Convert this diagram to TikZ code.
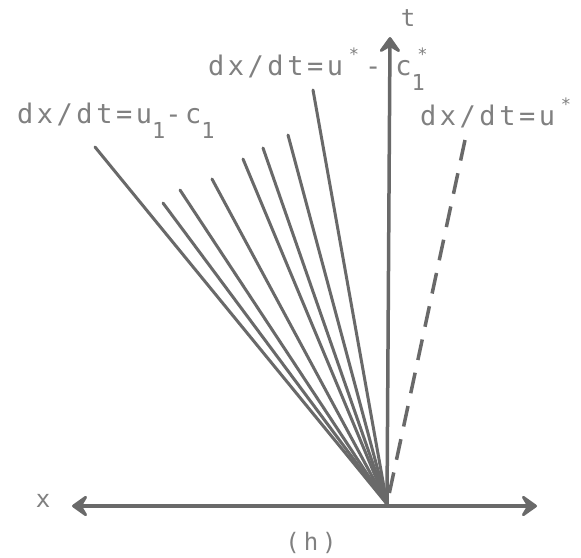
\documentclass[tikz,border=0pt]{standalone}
\usepackage{fontspec}
\newfontfamily\plotfont{DejaVu Sans Mono}[LetterSpace=13]
\usetikzlibrary{arrows.meta}
\definecolor{ink}{HTML}{696969}
\definecolor{txt}{HTML}{808080}
\newcommand\lowsub[1]{\raisebox{-15pt}{\fontsize{22}{22}\selectfont #1}}
\newcommand\upstar{\raisebox{15pt}{\makebox[22pt]{\fontsize{17}{17}\selectfont *}}}
\tikzset{
  fan/.style={draw=ink, line width=3pt, line cap=round},
  axis/.style={draw=ink, line width=3.5pt},
  dashline/.style={draw=ink, line width=3.5pt, dash pattern=on 21pt off 13pt},
  lab/.style={text=txt, font=\plotfont\fontsize{27}{27}\selectfont, inner sep=0pt, anchor=base west},
  axlab/.style={text=txt, font=\plotfont\fontsize{24}{24}\selectfont, inner sep=0pt},
  bigtip/.tip={Stealth[length=19pt, width=27pt, inset=8pt, round]}
}
\begin{document}
\begin{tikzpicture}[x=1pt, y=-1pt]
\fill[white] (0,0) rectangle (581,557);
\useasboundingbox (0,0) rectangle (581,557);
% coordinates
\coordinate (O) at (387,504);
\coordinate (xl) at (72,506);
\coordinate (xr) at (537,506);
\coordinate (tt) at (390,37);
\coordinate (f1) at (95,147);
\coordinate (f2) at (163,203);
\coordinate (f3) at (180,190);
\coordinate (f4) at (212,179);
\coordinate (f5) at (243,159);
\coordinate (f6) at (263,148);
\coordinate (f7) at (288,135);
\coordinate (f8) at (313,90);
\coordinate (d1) at (465,140);
% fan of characteristics
\foreach \f in {f1,f2,f3,f4,f5,f6,f7,f8} \draw[fan] (O) -- (\f);
% dashed contact line
\draw[dashline] (d1) -- (O);
% axes
\draw[axis, bigtip-bigtip] (xl) -- (xr);
\draw[axis, -bigtip] (O) -- (tt);
% labels
\node[axlab] (tl) at (408,18) {t};
\node[axlab] (xlab) at (43,501) {x};
\node[axlab] (hl) at (311,543) {(\,h\,)};
\node[lab] (l1) at (17,123) {dx/dt=u\lowsub{1}-c\lowsub{1}};
\node[lab] (l2) at (208,75) {dx/dt=u\upstar-\hspace{14pt}c\rlap{\upstar}\lowsub{1}};
\node[lab] (l3) at (420,125) {dx/dt=u\upstar};
\end{tikzpicture}
\end{document}
